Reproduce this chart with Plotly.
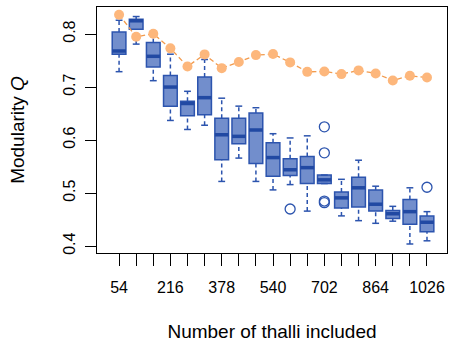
import plotly.graph_objects as go

# ---- data ----
thalli = [54, 108, 162, 216, 270, 324, 378, 432, 486, 540, 594, 648, 702, 756, 810, 864, 918, 972, 1026]
labelled = [54, 216, 378, 540, 702, 864, 1026]
q1 = [0.762, 0.809, 0.738, 0.664, 0.646, 0.648, 0.563, 0.593, 0.556, 0.532, 0.533, 0.518, 0.518, 0.472, 0.474, 0.466, 0.452, 0.441, 0.427]
med = [0.768, 0.825, 0.758, 0.700, 0.669, 0.680, 0.610, 0.607, 0.619, 0.567, 0.544, 0.548, 0.525, 0.491, 0.510, 0.479, 0.461, 0.465, 0.445]
q3 = [0.804, 0.828, 0.784, 0.722, 0.673, 0.719, 0.641, 0.641, 0.651, 0.595, 0.565, 0.569, 0.534, 0.502, 0.530, 0.506, 0.467, 0.488, 0.457]
wlo = [0.729, 0.781, 0.712, 0.637, 0.620, 0.628, 0.522, 0.566, 0.522, 0.506, 0.516, 0.466, 0.518, 0.457, 0.448, 0.443, 0.447, 0.404, 0.410]
whi = [0.826, 0.833, 0.805, 0.762, 0.692, 0.752, 0.679, 0.664, 0.661, 0.612, 0.604, 0.608, 0.534, 0.526, 0.562, 0.513, 0.475, 0.510, 0.465]
out_idx = [11, 13, 13, 13, 13, 19]
out_val = [0.470, 0.625, 0.576, 0.485, 0.482, 0.511]
modQ_full = [0.8365, 0.7949, 0.8006, 0.7730, 0.7389, 0.7616, 0.7357, 0.7471, 0.7603, 0.7622,
             0.7465, 0.7287, 0.7295, 0.7244, 0.7314, 0.7257, 0.7125, 0.7212, 0.7181]

pos = list(range(1, len(thalli) + 1))
BOX_W = 0.8
CAP_W = 0.4
blue_fill = "rgba(60,98,185,0.72)"
blue_line = "#2C54AE"
blue_med = "#2149A3"
orange_pt = "#FDB77C"
orange_ln = "#F29B4E"

fig = go.Figure()

# box bodies
fig.add_trace(go.Box(
    x=pos, q1=q1, median=med, q3=q3, lowerfence=q1, upperfence=q3,
    width=BOX_W, fillcolor=blue_fill, line=dict(color=blue_line, width=1.5),
    boxpoints=False, showlegend=False, hoverinfo="skip",
))

# dashed whiskers
wx, wy = [], []
for p, a, b, lo, hi in zip(pos, q1, q3, wlo, whi):
    if lo < a:
        wx += [p, p, None]; wy += [lo, a, None]
    if hi > b:
        wx += [p, p, None]; wy += [b, hi, None]
fig.add_trace(go.Scatter(x=wx, y=wy, mode="lines",
                         line=dict(color=blue_line, width=1.5, dash="4px,3px"),
                         showlegend=False, hoverinfo="skip"))

# caps
cx, cy = [], []
for p, lo, hi in zip(pos, wlo, whi):
    cx += [p - CAP_W / 2, p + CAP_W / 2, None, p - CAP_W / 2, p + CAP_W / 2, None]
    cy += [lo, lo, None, hi, hi, None]
fig.add_trace(go.Scatter(x=cx, y=cy, mode="lines",
                         line=dict(color=blue_line, width=1.5),
                         showlegend=False, hoverinfo="skip"))

# thick medians
mx, my = [], []
for p, m in zip(pos, med):
    mx += [p - BOX_W / 2, p + BOX_W / 2, None]
    my += [m, m, None]
fig.add_trace(go.Scatter(x=mx, y=my, mode="lines",
                         line=dict(color=blue_med, width=3.5),
                         showlegend=False, hoverinfo="skip"))

# outliers
fig.add_trace(go.Scatter(x=out_idx, y=out_val, mode="markers",
                         marker=dict(symbol="circle-open", size=10, color=blue_line,
                                     line=dict(width=1.3, color=blue_line)),
                         showlegend=False, hoverinfo="skip"))

# full-data modularity
fig.add_trace(go.Scatter(x=pos, y=modQ_full, mode="lines+markers",
                         line=dict(color=orange_ln, width=1.3, dash="5px,3px"),
                         marker=dict(size=10, color=orange_pt),
                         showlegend=False, hoverinfo="skip"))

ticktext = [str(t) if t in labelled else "" for t in thalli]

fig.update_layout(
    width=449, height=342,
    margin=dict(l=97, r=2, t=7, b=89),
    paper_bgcolor="white", plot_bgcolor="white",
    font=dict(family="Liberation Sans, Arial, sans-serif", size=16, color="black"),
    xaxis=dict(
        range=[-0.29, 20.17], tickvals=pos, ticktext=ticktext,
        ticks="outside", ticklen=12, tickwidth=1, tickcolor="black",
        showline=True, linecolor="black", linewidth=1, mirror=True,
        showgrid=False, zeroline=False, ticklabelstandoff=8,
        title=dict(text="Number of thalli included", standoff=30),
    ),
    yaxis=dict(
        range=[0.387, 0.851], tickvals=[0.4, 0.5, 0.6, 0.7, 0.8],
        ticktext=["0.4", "0.5", "0.6", "0.7", "0.8"], tickangle=-90,
        ticks="outside", ticklen=11, tickwidth=1, tickcolor="black",
        showline=True, linecolor="black", linewidth=1, mirror=True,
        showgrid=False, zeroline=False, ticklabelstandoff=4,
        title=dict(text="Modularity <i>Q</i>", standoff=30),
    ),
)

fig.write_html("out.html")
